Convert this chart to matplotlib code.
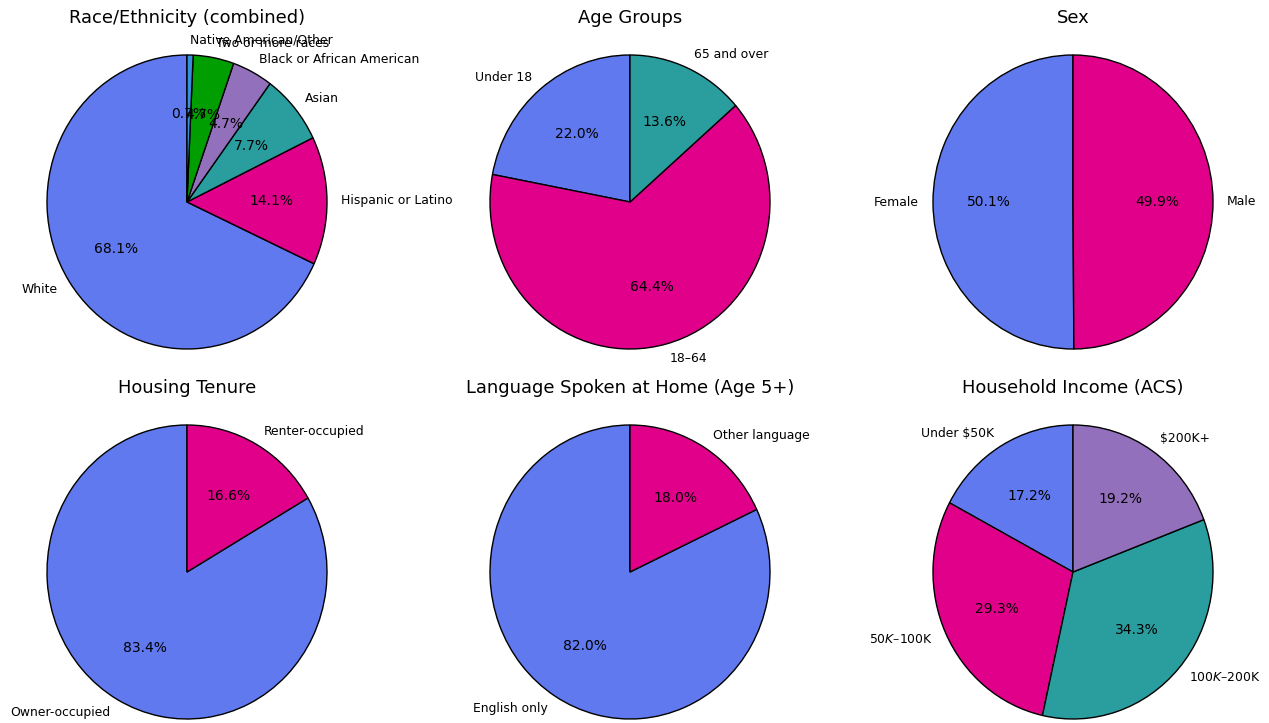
import matplotlib.pyplot as plt

race_labels = ["White", "Hispanic or Latino", "Asian", "Black or African American",
               "Two or more races", "Native American/Other"]
race_values = [68.1, 14.1, 7.7, 4.7, 4.7, 0.7]

age_labels = ["Under 18", "18–64", "65 and over"]
age_values = [22.0, 64.4, 13.6]

sex_labels = ["Female", "Male"]
sex_values = [50.1, 49.9]

tenure_labels = ["Owner-occupied", "Renter-occupied"]
tenure_values = [83.4, 16.6]

lang_labels = ["English only", "Other language"]
lang_values = [82.0, 18.0]

income_labels = ["Under $50K", "$50K–$100K", "$100K–$200K", "$200K+"]
income_values = [17.2, 29.3, 34.3, 19.2]

colors = ["#6079ee", "#e0008a", "#2a9d9f", "#9370bb", "#009e00", "#3a8fdd"]

charts = [
    ("Race/Ethnicity (combined)", race_labels, race_values),
    ("Age Groups", age_labels, age_values),
    ("Sex", sex_labels, sex_values),
    ("Housing Tenure", tenure_labels, tenure_values),
    ("Language Spoken at Home (Age 5+)", lang_labels, lang_values),
    ("Household Income (ACS)", income_labels, income_values),
]

W, H = 1269, 723
fig = plt.figure(figsize=(W / 100, H / 100), dpi=100)

# pie centres in pixels, radius ~140 px wide, ~147 px tall
col_x = [187, 630, 1073]
row_y = [202, 572]
rx, ry = 140, 147
xl, yl = 1.5, 1.15

for i, (title, labels, values) in enumerate(charts):
    cx = col_x[i % 3]
    cy = row_y[i // 3]
    aw, ah = 2 * xl * rx, 2 * yl * ry
    ax = fig.add_axes([(cx - aw / 2) / W, (H - cy - ah / 2) / H, aw / W, ah / H])
    ax.pie(values, labels=labels, autopct="%1.1f%%", startangle=90,
           colors=colors[:len(values)],
           wedgeprops={"edgecolor": "black", "linewidth": 1},
           textprops={"fontsize": 8.9})
    for t in ax.texts:
        if t.get_text().endswith("%"):
            t.set_fontsize(10)
    ax.set_aspect("auto")
    ax.set_xlim(-xl, xl)
    ax.set_ylim(-yl, yl)
    ax.set_title(title, fontsize=12.9, pad=7.5)
    ax.axis("off")

plt.savefig("out.png")
